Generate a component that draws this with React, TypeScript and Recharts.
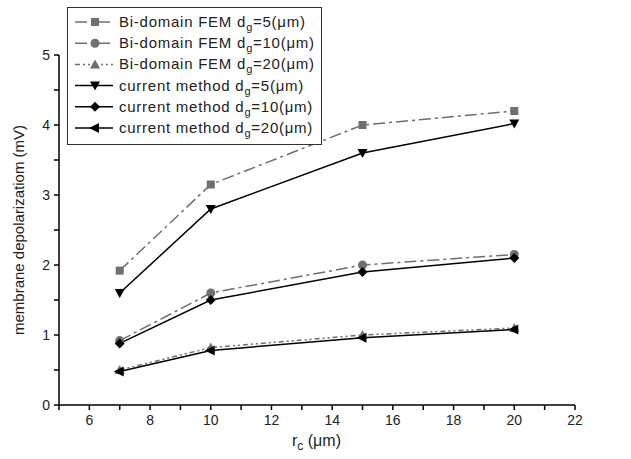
import React from 'react';
import { LineChart, Line, XAxis, YAxis } from 'recharts';

// r_c values (µm)
const rc = [7, 10, 15, 20];

// membrane depolarization (mV)
const fem5 = [1.92, 3.15, 4.0, 4.2];
const fem10 = [0.92, 1.6, 2.0, 2.15];
const fem20 = [0.5, 0.82, 1.0, 1.1];
const cur5 = [1.6, 2.8, 3.6, 4.02];
const cur10 = [0.88, 1.5, 1.9, 2.1];
const cur20 = [0.48, 0.78, 0.96, 1.08];

const xTicks = [5, 6, 7, 8, 9, 10, 11, 12, 13, 14, 15, 16, 17, 18, 19, 20, 21, 22];
const yTicks = [0, 0.5, 1, 1.5, 2, 2.5, 3, 3.5, 4, 4.5, 5];

const GRAY = '#6f6f6f';
const FONT = '"Liberation Sans", Arial, sans-serif';

type Shape = 'square' | 'circle' | 'up' | 'down' | 'diamond' | 'left';

const series: { key: string; name: string; dg: number; color: string; dash?: string; shape: Shape }[] = [
  { key: 'fem5', name: 'Bi-domain FEM', dg: 5, color: GRAY, dash: '12 4 3 4', shape: 'square' },
  { key: 'fem10', name: 'Bi-domain FEM', dg: 10, color: GRAY, dash: '12 4 3 4', shape: 'circle' },
  { key: 'fem20', name: 'Bi-domain FEM', dg: 20, color: GRAY, dash: '5 3 2 3 2 3', shape: 'up' },
  { key: 'cur5', name: 'current method', dg: 5, color: '#000', shape: 'down' },
  { key: 'cur10', name: 'current method', dg: 10, color: '#000', shape: 'diamond' },
  { key: 'cur20', name: 'current method', dg: 20, color: '#000', shape: 'left' },
];

const data = rc.map((r, i) => ({
  rc: r,
  fem5: fem5[i],
  fem10: fem10[i],
  fem20: fem20[i],
  cur5: cur5[i],
  cur10: cur10[i],
  cur20: cur20[i],
}));

function marker(shape: Shape, cx: number, cy: number, color: string, key?: string) {
  switch (shape) {
    case 'square':
      return <rect key={key} x={cx - 4} y={cy - 4} width={8} height={8} fill={color} />;
    case 'circle':
      return <circle key={key} cx={cx} cy={cy} r={4.5} fill={color} />;
    case 'up':
      return <polygon key={key} points={`${cx},${cy - 5} ${cx + 5},${cy + 4} ${cx - 5},${cy + 4}`} fill={color} />;
    case 'down':
      return <polygon key={key} points={`${cx},${cy + 5} ${cx + 5},${cy - 4} ${cx - 5},${cy - 4}`} fill={color} />;
    case 'diamond':
      return <polygon key={key} points={`${cx},${cy - 5} ${cx + 5},${cy} ${cx},${cy + 5} ${cx - 5},${cy}`} fill={color} />;
    default:
      return <polygon key={key} points={`${cx - 6},${cy} ${cx + 4},${cy - 5} ${cx + 4},${cy + 5}`} fill={color} />;
  }
}

const XTick = (props: any) => {
  const { x, y, payload } = props;
  if (payload.value % 2 !== 0) return <g />;
  return (
    <text x={x} y={y + 13} textAnchor="middle" fontSize={14} fontFamily={FONT} fill="#222">
      {payload.value}
    </text>
  );
};

const YTick = (props: any) => {
  const { x, y, payload } = props;
  if (!Number.isInteger(payload.value)) return <g />;
  return (
    <text x={x - 2} y={y + 5} textAnchor="end" fontSize={14} fontFamily={FONT} fill="#222">
      {payload.value}
    </text>
  );
};

const LegendBox = () => (
  <svg width={255} height={138} style={{ display: 'block' }}>
    <rect x={0.5} y={0.5} width={254} height={137} fill="#fff" stroke="#333" />
    {series.map((s, i) => {
      const cy = 15 + i * 21.2;
      return (
        <g key={s.key}>
          <line x1={8} x2={46} y1={cy} y2={cy} stroke={s.color} strokeWidth={1.5} strokeDasharray={s.dash} />
          {marker(s.shape, 28, cy, s.color)}
          <text x={52} y={cy + 5} fontSize={15} fontFamily={FONT} fill="#222" letterSpacing={0.75}>
            {s.name} d
            <tspan dy={4} fontSize={11}>g</tspan>
            <tspan dy={-4}>={s.dg}(μm)</tspan>
          </text>
        </g>
      );
    })}
  </svg>
);

export default function App() {
  return (
    <div style={{ position: 'absolute', left: 0, top: 0, width: 631, height: 459, background: '#fff' }}>
      <LineChart width={631} height={459} data={data} margin={{ top: 55, right: 56, bottom: 0, left: 0 }}>
        <XAxis
          type="number"
          dataKey="rc"
          domain={[5, 22]}
          ticks={xTicks}
          interval={0}
          height={54}
          tick={<XTick />}
          tickSize={5}
          stroke="#000"
          strokeWidth={1.5}
          label={{
            content: () => (
              <text x={292} y={446} fontSize={16} fontFamily={FONT} fill="#222">
                r<tspan dy={4} fontSize={12}>c</tspan>
                <tspan dy={-4}> (μm)</tspan>
              </text>
            ),
          }}
        />
        <YAxis
          type="number"
          domain={[0, 5]}
          ticks={yTicks}
          interval={0}
          width={59}
          tick={<YTick />}
          tickSize={5}
          stroke="#000"
          strokeWidth={1.5}
          label={{
            value: 'membrane depolarizatiom (mV)',
            angle: -90,
            position: 'center',
            dx: -11,
            style: { fontSize: 15, fontFamily: FONT, fill: '#222' },
          }}
        />
        {series.map((s) => (
          <Line
            key={s.key}
            dataKey={s.key}
            type="linear"
            stroke={s.color}
            strokeWidth={1.5}
            strokeDasharray={s.dash}
            dot={(p: any) => marker(s.shape, p.cx, p.cy, s.color, `${s.key}-${p.index}`)}
            activeDot={false}
            isAnimationActive={false}
          />
        ))}
      </LineChart>
      <div style={{ position: 'absolute', left: 67, top: 7 }}>
        <LegendBox />
      </div>
    </div>
  );
}
